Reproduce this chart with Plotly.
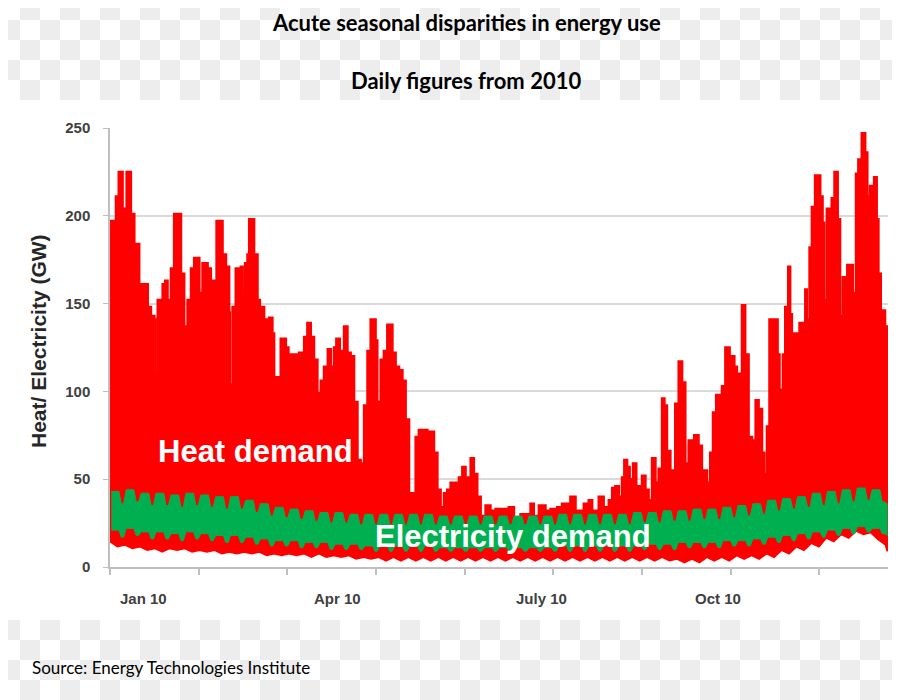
import plotly.graph_objects as go

# ---------------- data ----------------
# upper envelope of daily heat demand (GW), day-of-year positions
heat_day = [0, 1.3, 2.8, 4.1, 5.2, 5.9, 7.2, 7.8, 9.4, 9.8, 11.4, 13, 13.7, 16.9, 17.7, 19.2, 20.8, 21.2, 22.4,
            24.7, 25.9, 27, 27.8, 28.6, 30.1, 31.7, 33.3, 34.8, 36.4, 38, 39.5, 41.1, 41.9, 43.4, 44.7, 45.8,
            47.3, 48.9, 50, 52, 52.8, 54.4, 55.9, 56.2, 57.5, 59, 61.4, 62.2, 63.4, 64.5, 65.3, 66.5, 67.6,
            69.2, 70.3, 71.2, 72.3, 74.6, 76.2, 77, 78.1, 80.1, 81.7, 82.5, 83.7, 84.8, 88.7, 91.1, 92.6,
            94.2, 95.7, 97.3, 98.9, 100.4, 102.2, 103.6, 105.1, 106.2, 107.8, 109, 109.8, 110.6, 111.4,
            112.9, 114.5, 116.1, 117.6, 119.2, 120.8, 122.3, 123.9, 124.6, 125.4, 127, 128.5, 130.1, 131.7,
            132.5, 134, 135.6, 137.2, 138.7, 140.3, 141.8, 143.4, 144.9, 147.3, 148.9, 151.2, 152, 153.6,
            155.1, 156.7, 158.2, 159.8, 162.1, 163.7, 165.3, 166.8, 169.2, 170.7, 172.3, 173.9, 176.2,
            178.5, 180.9, 187.1, 189.5, 192.6, 197.3, 198.8, 201.2, 204.3, 206.7, 209.8, 212.1, 216, 218.4,
            222.3, 224.6, 226.2, 229.3, 231.6, 234, 235.6, 237.1, 238.7, 240.2, 241.3, 242.6, 243.8, 245.4,
            246.9, 248.5, 249.6, 251.2, 252.7, 254.3, 255.9, 257.4, 259, 260.1, 261.3, 262.9, 264.1, 265.2,
            266.8, 268.4, 269.9, 271.5, 274.1, 276.1, 277.7, 280.1, 281.6, 282.9, 284.4, 286, 287.1, 288.7,
            290.7, 291.8, 292.9, 294.1, 296.5, 298, 299.6, 301.2, 302.9, 304.3, 305.9, 306.9, 308.2, 309.4,
            312.1, 313.2, 314.1, 315.7, 316.8, 318.2, 319.1, 319.9, 321, 323.5, 326.2, 326.9, 328.2, 329.3,
            330.8, 332.4, 333.2, 334.3, 335, 336.3, 337.5, 338.6, 339.9, 341.4, 342.5, 343.8, 345.9, 348.5,
            349.1, 350, 351.1, 352.7, 354.3, 355.3, 356.6, 358.5, 359.7, 360.5, 361.6, 363.6, 365]
heat_max = [197, 197, 211, 225, 225, 204, 169, 225, 225, 201, 184, 184, 161, 161, 148, 143, 141, 110, 152,
            161, 163, 152, 114, 170, 201, 201, 167, 137, 152, 170, 176, 176, 156, 173, 173, 170,
            163, 146, 197, 197, 178, 171, 145, 104, 148, 170, 171, 156, 173, 178, 198, 198, 178,
            152, 125, 148, 141, 142, 133, 90, 108, 130, 130, 125, 99, 121, 122, 131, 139,
            131, 118, 99, 106, 114, 124, 114, 125, 130, 123, 110, 137, 137, 122,
            120, 94, 61, 59, 92, 123, 141, 141, 129, 94, 118, 123, 138, 138,
            122, 114, 112, 106, 84, 42, 42, 74, 78, 78, 77, 77, 65, 44,
            34, 42, 44, 48, 48, 51, 57, 51, 62, 53, 40, 29, 35,
            32, 33, 34, 28, 30, 36, 29, 35, 32, 33, 34, 36, 40, 32,
            36, 38, 32, 40, 34, 38, 45, 46, 40, 51, 61, 57, 50, 59,
            46, 44, 52, 44, 38, 62, 48, 56, 96, 92, 66, 55, 46, 93,
            117, 105, 59, 72, 75, 69, 55, 48, 65, 88, 98, 84, 103, 125,
            114, 120, 114, 110, 149, 121, 74, 72, 95, 90, 65, 53, 80, 141,
            141, 121, 101, 121, 148, 171, 144, 123, 133, 139, 158, 141, 182, 205,
            223, 223, 211, 196, 152, 204, 196, 210, 225, 198, 143, 165, 172, 156,
            128, 224, 232, 247, 236, 211, 217, 222, 198, 167, 146, 137, 137]

# lower envelope of heat demand (GW), per week: start of week / middle of week
heat_min_a = [15, 13, 12, 11, 11, 11, 10, 10, 9, 9, 9, 8, 8, 8, 8, 7, 7, 6,
              6, 6, 6, 6, 6, 6, 6, 6, 6, 6, 6, 6, 6, 6, 6, 6, 6,
              6, 6, 6, 5, 5, 6, 6, 7, 7, 8, 10, 12, 14, 17, 19, 21, 20, 13]
heat_min_b = [12, 11, 10, 9, 10, 9, 9, 8, 8, 8, 7, 7, 7, 6, 6, 6, 5, 5,
              4, 4, 4, 4, 4, 4, 4, 4, 4, 4, 4, 4, 4, 4, 4, 4, 4,
              4, 4, 4, 3, 3, 4, 4, 5, 5, 6, 8, 10, 12, 15, 17, 19, 16, 9]

# electricity demand band (GW), one value per week: weekday / weekend, top / bottom
elec_wk_top = [43, 44, 42, 42, 41, 42, 41, 40, 40, 38, 36, 34, 33, 32, 31, 31, 30, 30,
               30, 30, 30, 30, 29, 29, 29, 29, 29, 29, 29, 29, 30, 30, 30, 30, 30,
               31, 31, 32, 32, 33, 33, 34, 35, 36, 38, 39, 40, 42, 43, 44, 45, 44, 36]
elec_we_top = [36, 37, 35, 35, 34, 35, 34, 33, 33, 31, 29, 28, 27, 26, 25, 25, 24, 24,
               24, 24, 24, 24, 24, 24, 24, 24, 24, 24, 24, 24, 24, 24, 24, 24, 24,
               25, 25, 26, 26, 27, 27, 28, 29, 30, 32, 33, 34, 35, 36, 37, 38, 37, 30]
elec_wk_bot = [21, 22, 20, 20, 19, 20, 19, 18, 18, 17, 16, 15, 15, 14, 14, 13, 13, 12,
               12, 12, 12, 12, 11, 11, 11, 11, 11, 11, 11, 11, 12, 12, 12, 12, 12,
               12, 13, 13, 14, 14, 14, 15, 15, 16, 17, 18, 19, 20, 21, 22, 23, 22, 18]
elec_we_bot = [17, 18, 16, 16, 15, 16, 15, 14, 14, 13, 12, 12, 11, 11, 10, 10, 10, 9,
               9, 9, 9, 9, 9, 9, 9, 9, 9, 9, 9, 9, 9, 9, 9, 9, 9,
               10, 10, 10, 11, 11, 11, 12, 12, 13, 14, 15, 16, 17, 18, 19, 20, 19, 15]

month_labels = ["Jan 10", "Apr 10", "July 10", "Oct 10"]
month_label_day = [15.5, 106.8, 202.4, 285.4]
y_ticks = [0, 50, 100, 150, 200, 250]

# ---------------- geometry (reference pixel coords, page has an 8px body margin) ----------------
OFF = 8
W, H = 900 - OFF, 700 - OFF
L, R, T, B = 110 - OFF, 888 - OFF, 128 - OFF, 567 - OFF  # plot area in figure pixels


def px(x):  # x in reference-picture pixels -> paper
    return (x - OFF - L) / (R - L)


def py(y):  # y in reference-picture pixels -> paper
    return (B - (y - OFF)) / (B - T)


# ---------------- build series outlines ----------------
min_x, min_y = [], []
for w in range(len(heat_min_a)):
    d0 = 7 * w
    for d, v in [(d0, heat_min_a[w]), (d0 + 3.5, heat_min_b[w])]:
        if d <= 365:
            min_x.append(d)
            min_y.append(v)
min_x.append(365)
min_y.append(heat_min_b[-1])

gx, gtop, gbot = [], [], []
for w in range(len(elec_wk_top)):
    d0 = 7 * w
    for d, t, b in [(d0 + 0.6, elec_wk_top[w], elec_wk_bot[w]), (d0 + 4.2, elec_wk_top[w], elec_wk_bot[w]),
                    (d0 + 5.3, elec_we_top[w], elec_we_bot[w]), (d0 + 6.4, elec_we_top[w], elec_we_bot[w])]:
        if d <= 365:
            gx.append(d)
            gtop.append(t)
            gbot.append(b)
green_x = gx + gx[::-1]
green_y = gtop + gbot[::-1]

fig = go.Figure()
# lower edge of heat demand (smooth zigzag)
fig.add_trace(go.Scatter(x=min_x, y=min_y, mode="lines", line=dict(color="#FF0000", width=3, shape="linear"),
                         hoverinfo="skip", showlegend=False))
# upper edge of heat demand (daily steps), filled down to the lower edge
fig.add_trace(go.Scatter(x=heat_day, y=heat_max, mode="lines", fill="tonexty", fillcolor="#FF0000",
                         line=dict(color="#FF0000", width=2.5, shape="hv"), hoverinfo="skip",
                         showlegend=False))
fig.add_trace(go.Scatter(x=green_x, y=green_y, fill="toself", fillcolor="#00B050", mode="lines",
                         line=dict(color="#00B050", width=1), hoverinfo="skip", showlegend=False))

# ---------------- checkerboard background outside the chart band ----------------
shapes = []
sq = 20
for row in range(0, 700 // sq + 1):
    y0 = row * sq
    if 100 <= y0 < 620:
        continue
    for col in range(0, 900 // sq + 1):
        if (row + col) % 2 == 1:
            x0 = col * sq
            shapes.append(dict(type="rect", xref="paper", yref="paper", x0=px(x0), x1=px(x0 + sq),
                               y0=py(y0 + sq), y1=py(y0), fillcolor="#EDEDED", line=dict(width=0),
                               layer="below"))

axis_font = dict(family="Liberation Sans, Arial", size=15, color="#404040", weight="bold")

annotations = []
for lab, d in zip(month_labels, month_label_day):
    annotations.append(dict(x=d, y=py(598), xref="x", yref="paper", text=lab, showarrow=False,
                            font=axis_font, xanchor="center", yanchor="middle"))
annotations += [
    dict(x=px(38), y=py(341), xref="paper", yref="paper", text="Heat/ Electricity (GW)", textangle=-90,
         showarrow=False, font=dict(family="Liberation Sans, Arial", size=21, color="#262626", weight="bold"),
         xanchor="center", yanchor="middle"),
    dict(x=px(466), y=py(22), xref="paper", yref="paper", text="Acute seasonal disparities in energy use",
         showarrow=False, font=dict(family="Lato", size=22, color="#000000", weight="bold"),
         xanchor="center", yanchor="middle"),
    dict(x=px(466), y=py(80), xref="paper", yref="paper", text="Daily figures from 2010",
         showarrow=False, font=dict(family="Lato", size=22, color="#000000", weight="bold"),
         xanchor="center", yanchor="middle"),
    dict(x=px(30), y=py(667), xref="paper", yref="paper", text="Source: Energy Technologies Institute",
         showarrow=False, font=dict(family="Lato", size=17, color="#000000"),
         xanchor="left", yanchor="middle"),
    dict(x=68.4, y=66, xref="x", yref="y", text="Heat demand", showarrow=False,
         font=dict(family="Liberation Sans, Arial", size=31, color="#FFFFFF", weight="bold"),
         xanchor="center", yanchor="middle"),
    dict(x=189.3, y=17.1, xref="x", yref="y", text="Electricity demand", showarrow=False,
         font=dict(family="Liberation Sans, Arial", size=31, color="#FFFFFF", weight="bold"),
         xanchor="center", yanchor="middle"),
]

fig.update_layout(
    width=W, height=H,
    margin=dict(l=L, r=W - R, t=T, b=H - B, pad=0),
    paper_bgcolor="#FFFFFF", plot_bgcolor="#FFFFFF",
    shapes=shapes, annotations=annotations, showlegend=False,
    xaxis=dict(range=[0, 365], showgrid=False, zeroline=False, showline=True, linecolor="#BFBFBF",
               linewidth=1.5, ticks="outside", ticklen=6, tickcolor="#BFBFBF", tickwidth=1.5,
               tickmode="linear", tick0=0, dtick=41.6, showticklabels=False, fixedrange=True),
    yaxis=dict(range=[0, 250], tickvals=y_ticks, showgrid=True, gridcolor="#D9D9D9", gridwidth=1.5,
               zeroline=False, showline=True, linecolor="#BFBFBF", linewidth=1.5, ticks="outside",
               ticklen=5, tickcolor="#BFBFBF", tickfont=axis_font, ticklabelstandoff=10, fixedrange=True),
)

fig.write_html("out.html")
